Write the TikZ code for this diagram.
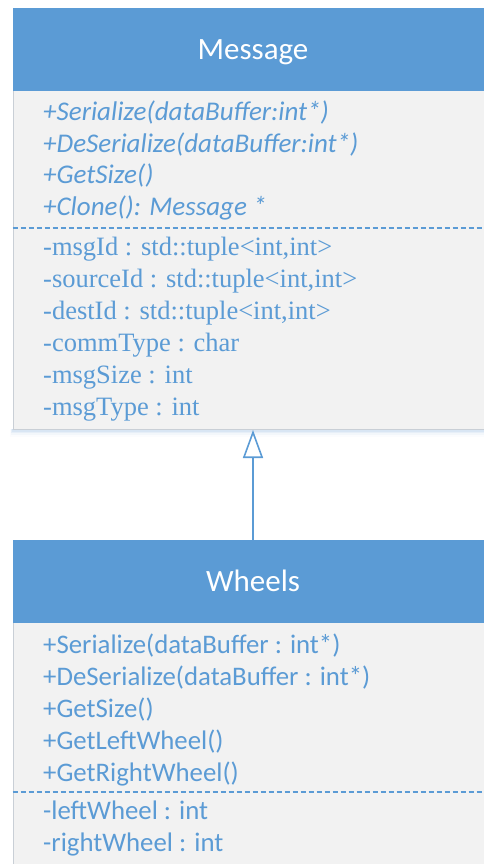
\documentclass[tikz,border=0pt]{standalone}
\usepackage{fontspec}
\newfontfamily\carl{Carlito}
\newfontfamily\tmsf{Liberation Serif}
\usetikzlibrary{arrows.meta}
\definecolor{umlblue}{HTML}{5B9BD5}
\definecolor{umlbody}{HTML}{F2F2F2}
\definecolor{umlborder}{HTML}{C9CFD6}
\definecolor{umlshadow}{HTML}{B8D0EA}
\tikzset{
  classbody/.style={draw=umlborder, fill=umlbody, line width=1pt, inner sep=0pt, anchor=north west, minimum width=500pt},
  classhead/.style={fill=umlblue, inner sep=0pt, anchor=north west, minimum width=500pt},
  headtext/.style={text=white, font=\carl\fontsize{31}{37}\selectfont, anchor=base, inner sep=0pt},
  optext/.style={text=umlblue, font=\carl\itshape\fontsize{27}{32}\selectfont, anchor=base west, inner sep=0pt},
  optextup/.style={text=umlblue, font=\carl\fontsize{26.8}{32}\selectfont, anchor=base west, inner sep=0pt},
  attrtext/.style={text=umlblue, font=\tmsf\fontsize{26.5}{32}\selectfont, anchor=base west, inner sep=0pt},
  sepline/.style={umlblue, line width=1.5pt, dash pattern=on 5pt off 3pt},
  inherit/.style={umlblue, line width=1.6pt, -{Triangle[open, length=28pt, width=20pt, line width=1.6pt]}}
}
\begin{document}
\begin{tikzpicture}[x=1pt,y=-1pt]
\useasboundingbox (0,0) rectangle (483,864);
% soft shadow of the Message box
\foreach \d/\o in {1/0.4,2.5/0.3,4/0.2,6/0.12,8/0.06}{
  \fill[umlshadow, opacity=\o] (12.5-\d*0.3,429) rectangle (520,429+\d);
}
% Message class
\node[classbody, minimum height=421pt] (msg) at (12.5,8) {};
\node[classhead, minimum height=83pt] (msghead) at (12.5,8) {};
\node[headtext] (msgname) at (253,60) {Message};
\node[optext] (m1) at (43,120.5) {+Serialize(dataBuffer:int*)};
\node[optext] (m2) at (43,152) {+DeSerialize(dataBuffer:int*)};
\node[optext] (m3) at (43,183.5) {+GetSize()};
\node[optext] (m4) at (43,215.5) {+Clone(): Message *};
\coordinate (msgsepL) at (12.5,228);
\draw[sepline] (msgsepL) -- ++(480,0);
\node[attrtext] (a1) at (43,255) {-msgId : std::tuple<int,int>};
\node[attrtext] (a2) at (43,287) {-sourceId : std::tuple<int,int>};
\node[attrtext] (a3) at (43,319) {-destId : std::tuple<int,int>};
\node[attrtext] (a4) at (43,351.5) {-commType : char};
\node[attrtext] (a5) at (43,383.5) {-msgSize : int};
\node[attrtext] (a6) at (43,415.5) {-msgType : int};
% Wheels class
\node[classbody, minimum height=340pt] (wh) at (12.5,540) {};
\node[classhead, minimum height=83pt] (whhead) at (12.5,540) {};
\node[headtext] (whname) at (253,591.5) {Wheels};
\node[optextup] (w1) at (43,653) {+Serialize(dataBuffer : int*)};
\node[optextup] (w2) at (43,685) {+DeSerialize(dataBuffer : int*)};
\node[optextup] (w3) at (43,717) {+GetSize()};
\node[optextup] (w4) at (43,749.5) {+GetLeftWheel()};
\node[optextup] (w5) at (43,781.5) {+GetRightWheel()};
\coordinate (whsepL) at (12.5,792);
\draw[sepline] (whsepL) -- ++(480,0);
\node[optextup] (w6) at (43,819) {-leftWheel : int};
\node[optextup] (w7) at (43,851) {-rightWheel : int};
% inheritance
\coordinate (ax) at (253,0);
\draw[inherit] (whhead.north -| ax) -- (msg.south -| ax);
\end{tikzpicture}
\end{document}
